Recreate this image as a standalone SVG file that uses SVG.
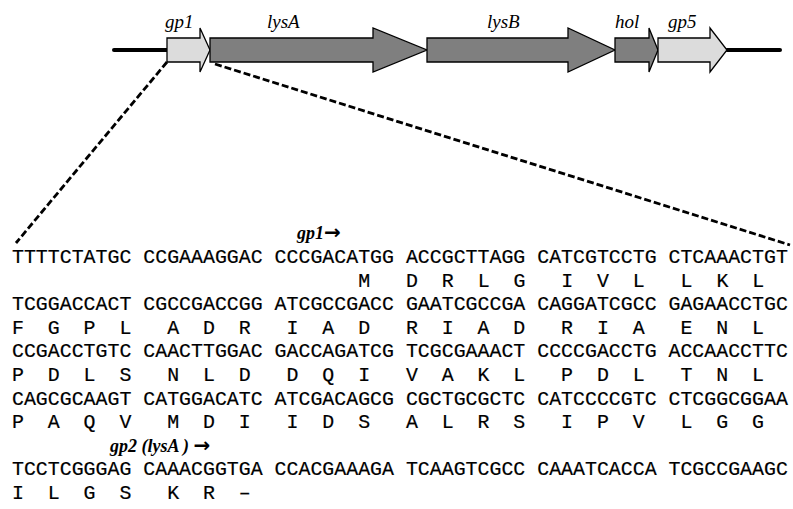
<svg xmlns="http://www.w3.org/2000/svg" width="793" height="509" viewBox="0 0 793 509">
  <style>
    .gene { stroke: #000; stroke-width: 1.3; stroke-linejoin: miter; }
    .light { fill: #dcdcdc; }
    .dark { fill: #7f7f7f; }
    .glabel { font-family: "Liberation Serif", "Times New Roman", serif; font-style: italic; font-size: 19px; fill: #000; }
    .seq { font-family: "Liberation Mono", "Courier New", monospace; font-size: 19.9px; fill: #000; stroke: #000; stroke-width: 0.2; white-space: pre; }
    .orf { font-family: "Liberation Serif", "Times New Roman", serif; font-style: italic; font-weight: bold; font-size: 18px; fill: #000; white-space: pre; }
    .arr { font-family: "DejaVu Sans", sans-serif; font-style: normal; font-weight: bold; font-size: 20px; }
    .backbone { stroke: #000; stroke-width: 4; stroke-linecap: round; }
    .zoom { stroke: #000; stroke-width: 2.8; stroke-dasharray: 7 3; fill: none; }
  </style>

  <rect width="793" height="509" fill="#fff"/>

  <!-- flanking DNA -->
  <g id="backbone">
    <line class="backbone" x1="114" y1="50" x2="167" y2="50"/>
    <line class="backbone" x1="727" y1="50" x2="780" y2="50"/>
  </g>

  <!-- gene map -->
  <g id="gene-gp1">
    <polygon class="gene light" points="167,38 200,38 200,28 210,50 200,72 200,62 167,62"/>
    <text class="glabel" x="165" y="28">gp1</text>
  </g>
  <g id="gene-lysA">
    <polygon class="gene dark" points="210,38 373,38 373,28 427,50 373,72 373,62 210,62"/>
    <text class="glabel" x="267" y="28">lysA</text>
  </g>
  <g id="gene-lysB">
    <polygon class="gene dark" points="427,38 568,38 568,28 615,50 568,72 568,62 427,62"/>
    <text class="glabel" x="487" y="28">lysB</text>
  </g>
  <g id="gene-hol">
    <polygon class="gene dark" points="615,38 649,38 649,28 658,50 649,72 649,62 615,62"/>
    <text class="glabel" x="615" y="28">hol</text>
  </g>
  <g id="gene-gp5">
    <polygon class="gene light" points="658,38 710,38 710,28 727,50 710,72 710,62 658,62"/>
    <text class="glabel" x="668" y="28">gp5</text>
  </g>

  <!-- expansion of the gp1 region -->
  <g id="connectors">
    <line class="zoom" x1="167" y1="62" x2="16" y2="243"/>
    <line class="zoom" x1="215" y1="64" x2="790" y2="245"/>
  </g>

  <!-- nucleotide sequence with translation -->
  <g id="sequence">
    <text class="orf" x="297" y="239.4">gp1<tspan class="arr">→</tspan></text>
    <text class="seq" xml:space="preserve" x="12" y="263">TTTTCTATGC CCGAAAGGAC CCCGACATGG ACCGCTTAGG CATCGTCCTG CTCAAACTGT</text>
    <text class="seq" xml:space="preserve" x="358.3" y="286.6">M   D  R  L  G   I  V  L   L  K  L</text>
    <text class="seq" xml:space="preserve" x="12" y="310.2">TCGGACCACT CGCCGACCGG ATCGCCGACC GAATCGCCGA CAGGATCGCC GAGAACCTGC</text>
    <text class="seq" xml:space="preserve" x="12" y="333.8">F  G  P  L   A  D  R   I  A  D   R  I  A  D   R  I  A   E  N  L</text>
    <text class="seq" xml:space="preserve" x="12" y="357.4">CCGACCTGTC CAACTTGGAC GACCAGATCG TCGCGAAACT CCCCGACCTG ACCAACCTTC</text>
    <text class="seq" xml:space="preserve" x="12" y="381">P  D  L  S   N  L  D   D  Q  I   V  A  K  L   P  D  L   T  N  L</text>
    <text class="seq" xml:space="preserve" x="12" y="404.6">CAGCGCAAGT CATGGACATC ATCGACAGCG CGCTGCGCTC CATCCCCGTC CTCGGCGGAA</text>
    <text class="seq" xml:space="preserve" x="12" y="428.2">P  A  Q  V   M  D  I   I  D  S   A  L  R  S   I  P  V   L  G  G</text>
    <text class="orf" xml:space="preserve" x="110" y="451.8">gp2 (lysA ) <tspan class="arr">→</tspan></text>
    <text class="seq" xml:space="preserve" x="12" y="475.4">TCCTCGGGAG CAAACGGTGA CCACGAAAGA TCAAGTCGCC CAAATCACCA TCGCCGAAGC</text>
    <text class="seq" xml:space="preserve" x="12" y="499">I  L  G  S   K  R  –</text>
  </g>
</svg>
